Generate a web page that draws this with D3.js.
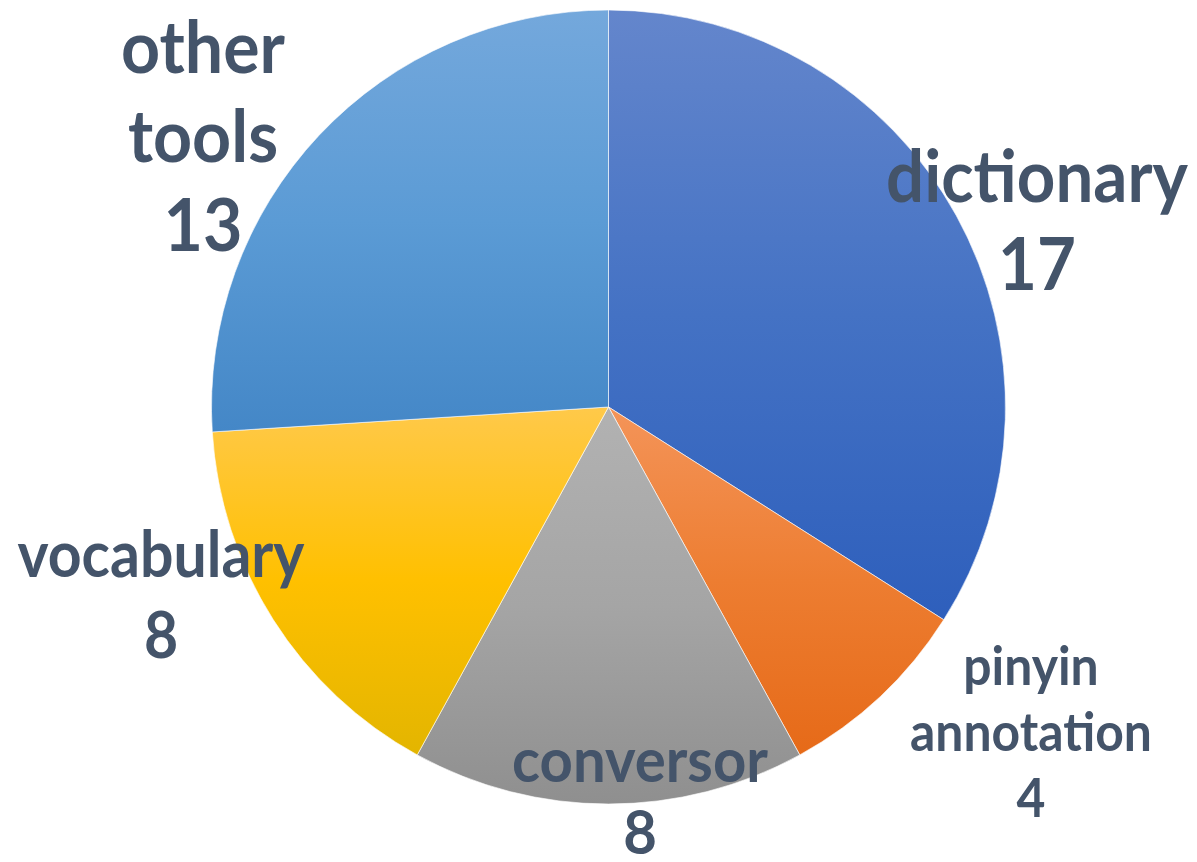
<!DOCTYPE html>
<html>
<head>
<meta charset="utf-8">
<script src="https://cdn.jsdelivr.net/npm/d3@7"></script>
<style>
  html, body { margin: 0; padding: 0; background: #fff; }
  svg { display: block; }
</style>
</head>
<body>
<svg id="chart" width="1197" height="862"></svg>
<script>
// ---- data ----
const categories = ["dictionary", "pinyin annotation", "conversor", "vocabulary", "other tools"];
const values = [17, 4, 8, 8, 13];
const labelLines = [["dictionary", "17"], ["pinyin", "annotation", "4"], ["conversor", "8"], ["vocabulary", "8"], ["other", "tools", "13"]];

// ---- styles ----
const baseColors = ["#4472C4", "#ED7D31", "#A5A5A5", "#FFC000", "#5B9BD5"];
const topColors = ["#6486CC", "#F49459", "#B2B2B2", "#FFC94A", "#74A8DC"];
const bottomColors = ["#2E5FBC", "#E66A18", "#8F8F8F", "#E3B500", "#4487C7"];

// label layout: center x, first baseline, line height, font size, width of widest line
const labelLayout = [
  { x: 1037, y: 202, lh: 88, fs: 72, w: 302 },
  { x: 1031, y: 685, lh: 66, fs: 54, w: 242 },
  { x: 640, y: 782, lh: 72, fs: 62, w: 256 },
  { x: 161, y: 577, lh: 81, fs: 65, w: 287 },
  { x: 203, y: 73, lh: 89, fs: 73, w: 164 }
];

const svg = d3.select("#chart");
const cx = 608.5, cy = 407, R = 397;

const defs = svg.append("defs");
categories.forEach((c, i) => {
  const g = defs.append("linearGradient")
    .attr("id", "grad" + i)
    .attr("x1", 0).attr("y1", 0).attr("x2", 0).attr("y2", 1);
  g.append("stop").attr("offset", "0%").attr("stop-color", topColors[i]);
  g.append("stop").attr("offset", "50%").attr("stop-color", baseColors[i]);
  g.append("stop").attr("offset", "100%").attr("stop-color", bottomColors[i]);
});

const pie = d3.pie().sort(null).value(d => d)
  .startAngle(0).endAngle(2 * Math.PI);
const arcs = pie(values);
const arc = d3.arc().innerRadius(0).outerRadius(R);

const gPie = svg.append("g").attr("transform", `translate(${cx},${cy})`);
gPie.selectAll("path")
  .data(arcs)
  .join("path")
  .attr("d", arc)
  .attr("fill", (d, i) => `url(#grad${i})`)
  .attr("stroke", "rgba(255,255,255,0.6)")
  .attr("stroke-width", 1);

const gLabels = svg.append("g")
  .attr("font-family", "Lato, 'Open Sans', sans-serif")
  .attr("font-weight", 700)
  .attr("fill", "#44546A")
  .attr("text-anchor", "middle");

labelLines.forEach((lines, i) => {
  const L = labelLayout[i];
  const t = gLabels.append("text")
    .attr("font-size", L.fs);
  let maxW = 0;
  lines.forEach((ln, j) => {
    const ts = t.append("tspan")
      .attr("x", L.x)
      .attr("y", L.y + j * L.lh)
      .text(ln);
    maxW = Math.max(maxW, ts.node().getComputedTextLength());
  });
  const sx = maxW > 0 ? L.w / maxW : 1;
  t.attr("transform", `translate(${L.x},0) scale(${sx},1) translate(${-L.x},0)`);
});
</script>
</body>
</html>
